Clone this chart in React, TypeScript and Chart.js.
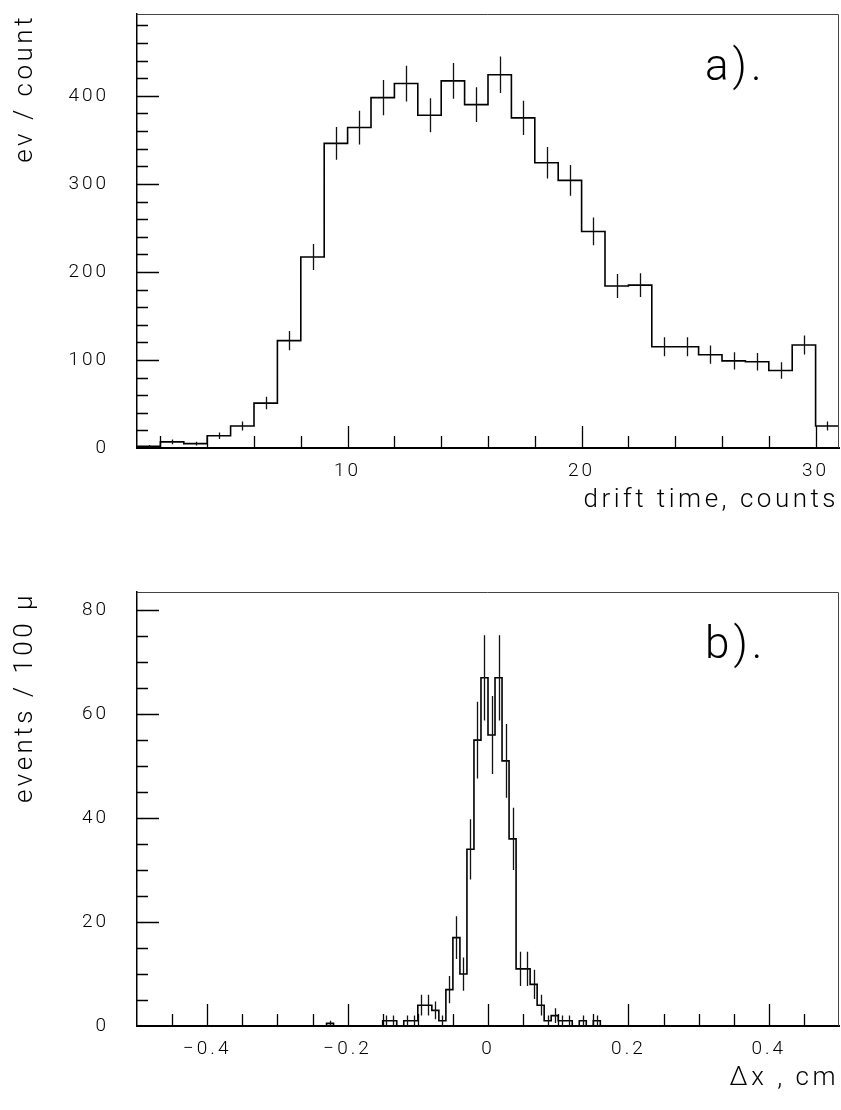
import React, { useEffect, useRef } from "react";
import { Chart, registerables } from "chart.js";

Chart.register(...registerables);

// ---------------- Panel a) : drift time ----------------
const driftEdges = [1, 2, 3, 4, 5, 6, 7, 8, 9, 10, 11, 12, 13, 14, 15, 16, 17, 18, 19, 20, 21, 22, 23, 24, 25, 26, 27, 28, 29, 30, 31];
const driftCounts = [2, 7, 5, 14, 25, 51, 122, 217, 346, 364, 398, 414, 378, 417, 390, 424, 375, 324, 304, 246, 184, 185, 115, 115, 106, 99, 98, 88, 117, 25];
const driftErrors = [1.4, 2.6, 2.2, 3.7, 5, 7.1, 11, 14.7, 18.6, 19.1, 19.9, 20.3, 19.4, 20.4, 19.7, 20.6, 19.4, 18, 17.4, 15.7, 13.6, 13.6, 10.7, 10.7, 10.3, 9.9, 9.9, 9.4, 10.8, 5];
const driftXTicks = [10, 20, 30];
const driftYTicks = [0, 100, 200, 300, 400];

// ---------------- Panel b) : residuals (bins of 100 microns) ----------------
const dxBinLow = [-0.23, -0.15, -0.14, -0.12, -0.11, -0.1, -0.09, -0.08, -0.07, -0.06, -0.05, -0.04, -0.03, -0.02, -0.01, 0, 0.01, 0.02, 0.03, 0.04, 0.05, 0.06, 0.07, 0.08, 0.09, 0.1, 0.11, 0.13, 0.15];
const dxCounts = [0.5, 1, 1, 1, 1, 4, 4, 3, 1, 7, 17, 10, 34, 55, 67, 56, 67, 51, 36, 11, 11, 8, 4, 1, 2, 1, 1, 1, 1];
const dxErrors = [0.5, 1, 1, 1, 1, 2, 2, 1.7, 1, 2.6, 4.1, 3.2, 5.8, 7.4, 8.2, 7.5, 8.2, 7.1, 6, 3.3, 3.3, 2.8, 2, 1, 1.4, 1, 1, 1, 1];
const dxXTicks = [-0.4, -0.2, 0, 0.2, 0.4];
const dxYTicks = [0, 20, 40, 60, 80];

const FONT = "Roboto";
const TITLE_SPACING = "3.5px";
const TICK_SPACING = "3px";
const CW = 841;
const CH = 532;

type Spec = {
  edges: number[];
  counts: number[];
  errors: number[];
  xMin: number;
  xMax: number;
  yMax: number;
  xTicks: number[];
  yTicks: number[];
  xMinor: number[];
  yMinor: number[];
  xTitle: string;
  yTitle: string;
  tag: string;
  fmt: (v: number) => string;
};

function steps(from: number, to: number, step: number): number[] {
  const out: number[] = [];
  for (let v = from; v <= to + 1e-9; v += step) out.push(Math.round(v * 1000) / 1000);
  return out;
}

// full histogram for panel b built from the sparse lists
const dxEdges: number[] = [];
for (let i = 0; i <= 100; i++) dxEdges.push(Math.round((-0.5 + i * 0.01) * 1000) / 1000);
const dxFull: number[] = new Array(100).fill(0);
const dxFullErr: number[] = new Array(100).fill(0);
dxBinLow.forEach((lo, k) => {
  const idx = Math.round((lo + 0.5) * 100);
  dxFull[idx] = dxCounts[k];
  dxFullErr[idx] = dxErrors[k];
});

const panelA: Spec = {
  edges: driftEdges,
  counts: driftCounts,
  errors: driftErrors,
  xMin: 1,
  xMax: 31,
  yMax: 493,
  xTicks: driftXTicks,
  yTicks: driftYTicks,
  xMinor: steps(2, 30, 2),
  yMinor: steps(20, 480, 20),
  xTitle: "drift time, counts",
  yTitle: "ev / count",
  tag: "a).",
  fmt: (v) => String(v),
};

const panelB: Spec = {
  edges: dxEdges,
  counts: dxFull,
  errors: dxFullErr,
  xMin: -0.5,
  xMax: 0.5,
  yMax: 83.5,
  xTicks: dxXTicks,
  yTicks: dxYTicks,
  xMinor: steps(-0.45, 0.45, 0.05),
  yMinor: steps(5, 80, 5),
  xTitle: "\u0394x , cm",
  yTitle: "events / 100 \u03bc",
  tag: "b).",
  fmt: (v) => (v < 0 ? "\u2212" + String(Math.abs(v)) : String(v)),
};

function buildConfig(spec: Spec): any {
  const n = spec.counts.length;
  const pts = spec.counts.map((c, i) => ({ x: spec.edges[i], y: c }));
  pts.push({ x: spec.edges[n], y: spec.counts[n - 1] });

  const decor = {
    id: "decor",
    beforeDraw(chart: any) {
      chart.ctx.letterSpacing = TITLE_SPACING;
    },
    afterDatasetsDraw(chart: any) {
      const { ctx, chartArea: a, scales } = chart;
      const xs = scales.x;
      const ys = scales.y;
      ctx.save();
      // error bars
      ctx.strokeStyle = "#111";
      ctx.lineWidth = 1.3;
      ctx.beginPath();
      for (let i = 0; i < n; i++) {
        const e = spec.errors[i];
        if (!e) continue;
        const xc = Math.round(xs.getPixelForValue((spec.edges[i] + spec.edges[i + 1]) / 2)) + 0.5;
        ctx.moveTo(xc, ys.getPixelForValue(spec.counts[i] - e));
        ctx.lineTo(xc, ys.getPixelForValue(spec.counts[i] + e));
      }
      ctx.stroke();
      // inward ticks
      ctx.strokeStyle = "#000";
      ctx.lineWidth = 1.3;
      ctx.beginPath();
      const majX = xs.ticks.map((t: any) => t.value);
      spec.xMinor.forEach((v) => {
        if (v <= spec.xMin || v >= spec.xMax) return;
        const long = majX.some((m: number) => Math.abs(m - v) < 1e-6);
        const px = Math.round(xs.getPixelForValue(v)) + 0.5;
        ctx.moveTo(px, a.bottom);
        ctx.lineTo(px, a.bottom - (long ? 22 : 12));
      });
      majX.forEach((v: number) => {
        if (spec.xMinor.some((m) => Math.abs(m - v) < 1e-6)) return;
        const px = Math.round(xs.getPixelForValue(v)) + 0.5;
        ctx.moveTo(px, a.bottom);
        ctx.lineTo(px, a.bottom - 22);
      });
      const majY = ys.ticks.map((t: any) => t.value);
      spec.yMinor.forEach((v) => {
        if (v <= 0 || v >= spec.yMax) return;
        const long = majY.some((m: number) => Math.abs(m - v) < 1e-6);
        const py = Math.round(ys.getPixelForValue(v)) + 0.5;
        ctx.moveTo(a.left, py);
        ctx.lineTo(a.left + (long ? 22 : 11), py);
      });
      ctx.stroke();
      ctx.restore();
      // tick labels (drawn in a later layer) use a tighter spacing
      ctx.letterSpacing = TICK_SPACING;
    },
    afterDraw(chart: any) {
      const { ctx, chartArea: a } = chart;
      ctx.save();
      // frame top / right
      ctx.strokeStyle = "#444";
      ctx.lineWidth = 1;
      ctx.beginPath();
      ctx.moveTo(a.left, a.top + 0.5);
      ctx.lineTo(a.right - 0.5, a.top + 0.5);
      ctx.lineTo(a.right - 0.5, a.bottom);
      ctx.stroke();
      // panel tag
      ctx.letterSpacing = "4px";
      ctx.fillStyle = "#000";
      ctx.font = `300 44px ${FONT}`;
      ctx.textAlign = "left";
      ctx.textBaseline = "alphabetic";
      ctx.fillText(spec.tag, 705, 80);
      ctx.restore();
    },
  };

  const tickFont = { family: FONT, size: 19, weight: 300 as any };
  const titleFont = { family: FONT, size: 26, weight: 300 as any };

  return {
    type: "line",
    data: {
      datasets: [
        {
          data: pts,
          borderColor: "#000",
          borderWidth: 1.6,
          pointRadius: 0,
          stepped: "before",
          fill: false,
        },
      ],
    },
    options: {
      responsive: false,
      animation: false,
      events: [],
      layout: { padding: { top: 14, right: 2, left: 0, bottom: 0 } },
      plugins: { legend: { display: false }, tooltip: { enabled: false } },
      scales: {
        x: {
          type: "linear",
          min: spec.xMin,
          max: spec.xMax,
          afterBuildTicks: (s: any) => {
            s.ticks = spec.xTicks.map((v) => ({ value: v }));
          },
          afterFit: (s: any) => {
            s.height = CH - 448;
            s.paddingLeft = 0;
            s.paddingRight = 0;
          },
          grid: { display: false, drawTicks: false },
          border: { display: true, color: "#000", width: 2 },
          ticks: {
            z: 1,
            autoSkip: false,
            maxRotation: 0,
            padding: 12,
            color: "#000",
            font: tickFont,
            callback: (v: any) => spec.fmt(Number(v)),
          },
          title: {
            display: true,
            text: spec.xTitle,
            align: "end",
            color: "#000",
            font: titleFont,
            padding: { top: 0, bottom: 16 },
          },
        },
        y: {
          type: "linear",
          min: 0,
          max: spec.yMax,
          afterBuildTicks: (s: any) => {
            s.ticks = spec.yTicks.map((v) => ({ value: v }));
          },
          afterFit: (s: any) => {
            s.width = 137;
            s.paddingTop = 0;
            s.paddingBottom = 0;
          },
          grid: { display: false, drawTicks: false },
          border: { display: true, color: "#000", width: 1.5 },
          ticks: {
            z: 1,
            autoSkip: false,
            padding: 28,
            color: "#000",
            font: tickFont,
            callback: (v: any) => spec.fmt(Number(v)),
          },
          title: {
            display: true,
            text: spec.yTitle,
            align: "end",
            color: "#000",
            font: titleFont,
            padding: { top: 10, bottom: 0 },
          },
        },
      },
    },
    plugins: [decor],
  };
}

export default function App() {
  const r1 = useRef<HTMLCanvasElement>(null);
  const r2 = useRef<HTMLCanvasElement>(null);
  useEffect(() => {
    const c1 = new Chart(r1.current as HTMLCanvasElement, buildConfig(panelA));
    const c2 = new Chart(r2.current as HTMLCanvasElement, buildConfig(panelB));
    return () => {
      c1.destroy();
      c2.destroy();
    };
  }, []);
  return (
    <div style={{ position: "absolute", left: 0, top: 0, width: CW, height: 1110, background: "#fff" }}>
      <canvas ref={r1} width={CW} height={CH} style={{ position: "absolute", left: 0, top: 0 }} />
      <canvas ref={r2} width={CW} height={CH} style={{ position: "absolute", left: 0, top: 578 }} />
    </div>
  );
}
